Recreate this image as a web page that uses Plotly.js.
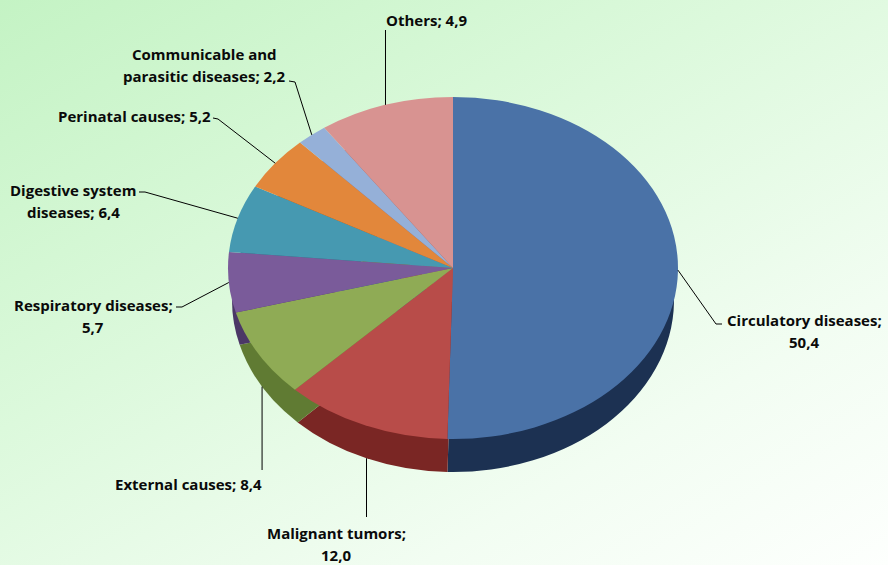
<!DOCTYPE html>
<html><head><meta charset="utf-8">
<script src="https://cdn.plot.ly/plotly-3.0.1.min.js"></script>
<style>
html,body{margin:0;padding:0;}
body{width:888px;height:565px;overflow:hidden;background:linear-gradient(150deg,#c4f3c4 0%,#dcf9dc 40%,#f2fdf2 75%,#fdfffd 100%);}
#chart{width:888px;height:565px;}
</style></head>
<body><div id="chart"></div>
<script>
// ---- data ----
const categories = ['Circulatory diseases', 'Malignant tumors', 'External causes', 'Respiratory diseases',
  'Digestive system diseases', 'Perinatal causes', 'Communicable and parasitic diseases', 'Others'];
// slice sizes as drawn in the picture
const values = [50.4, 12.0, 8.4, 5.7, 6.4, 5.2, 2.2, 9.7];
// values as printed in the labels
const valueLabels = ['50,4', '12,0', '8,4', '5,7', '6,4', '5,2', '2,2', '4,9'];
const labelLines = [
  ['Circulatory diseases;', '50,4'],
  ['Malignant tumors;', '12,0'],
  ['External causes; 8,4'],
  ['Respiratory diseases;', '5,7'],
  ['Digestive system', 'diseases; 6,4'],
  ['Perinatal causes; 5,2'],
  ['Communicable and', 'parasitic diseases; 2,2'],
  ['Others; 4,9']
];
const topColors  = ['#4a72a7', '#b84c49', '#8fab55', '#7a5b9a', '#4699b1', '#e2873b', '#95b0d8', '#d89391'];
const sideColors = ['#1c3152', '#7a2624', '#607b33', '#4b3766', '#2a6377', '#9b5519', '#5d7396', '#935a58'];

// ---- geometry (px) ----
const W = 888, H = 565;
// top face ellipse
const cx = 453, cy = 268, R = 225, RY = 171;
// bottom (side) ellipse
const cyB = 300, RB = 221, RYB = 172;

function dom(cxp, cyp, r) {
  return { x: [(cxp - r) / W, (cxp + r) / W], y: [1 - (cyp + r) / H, 1 - (cyp - r) / H] };
}
const pieCommon = {
  type: 'pie', values: values, labels: categories, sort: false, direction: 'clockwise', rotation: 0,
  textinfo: 'none', hoverinfo: 'skip', showlegend: false
};
const data = [
  Object.assign({}, pieCommon, { domain: dom(cx, cyB, RB), marker: { colors: sideColors, line: { width: 0 } } }),
  Object.assign({}, pieCommon, { domain: dom(cx, cy, R), marker: { colors: topColors, line: { width: 0 } } })
];
const squash = [[cyB, RYB / RB], [cy, RY / R]];

// label layout: text centre, leader elbow (x null = straight vertical), leader end
const labelCfg = [
  { tx: 804, ty: 320, elbow: [716, 324], end: [722, 324] },
  { tx: 336, ty: 533, elbow: [null, 517], end: null },
  { tx: 188, ty: 484, elbow: [null, 470], end: null },
  { tx: 93,  ty: 305, elbow: [182, 307], end: [176, 307] },
  { tx: 73,  ty: 190, elbow: [145, 192], end: [139, 192] },
  { tx: 134, ty: 116, elbow: [218, 119], end: [213, 118] },
  { tx: 204, ty: 54,  elbow: [295, 82],  end: [289, 81] },
  { tx: 426, ty: 20,  elbow: [null, 30], end: null }
];
const LH = 22;
const px = (x) => x / W, py = (y) => 1 - y / H;

const total = values.reduce((a, b) => a + b, 0);
let cum = 0;
const annotations = [], shapes = [];
values.forEach((v, i) => {
  const f = (cum + v / 2) / total; cum += v;
  const th = 2 * Math.PI * f;
  let ax, ay;
  if (Math.cos(th) < -0.35) { ax = cx + RB * Math.sin(th); ay = cyB - RYB * Math.cos(th); }
  else { ax = cx + R * Math.sin(th); ay = cy - RY * Math.cos(th); }
  const c = labelCfg[i];
  const ex = c.elbow[0] === null ? ax : c.elbow[0];
  let path = `M ${px(ax)} ${py(ay)} L ${px(ex)} ${py(c.elbow[1])}`;
  if (c.end) path += ` L ${px(c.end[0])} ${py(c.end[1])}`;
  shapes.push({ type: 'path', xref: 'paper', yref: 'paper', path: path, line: { color: '#000', width: 1 } });
  labelLines[i].forEach((t, k) => {
    annotations.push({ xref: 'paper', yref: 'paper', x: px(c.tx), y: py(c.ty + k * LH), text: t,
      showarrow: false, xanchor: 'center', yanchor: 'middle',
      font: { family: '"Open Sans", Lato, sans-serif', size: 15, weight: 700, color: '#0a0a0a' } });
  });
});

const layout = {
  width: W, height: H, margin: { l: 0, r: 0, t: 0, b: 0 },
  paper_bgcolor: 'rgba(0,0,0,0)', plot_bgcolor: 'rgba(0,0,0,0)',
  annotations: annotations, shapes: shapes
};
Plotly.newPlot('chart', data, layout, { staticPlot: true, displayModeBar: false }).then(gd => {
  const traces = gd.querySelectorAll('.pielayer > .trace');
  traces.forEach((g, i) => {
    const [c0, sc] = squash[i] || squash[squash.length - 1];
    g.setAttribute('transform', `translate(0 ${c0 * (1 - sc)}) scale(1 ${sc})`);
  });
});
</script>
</body></html>
